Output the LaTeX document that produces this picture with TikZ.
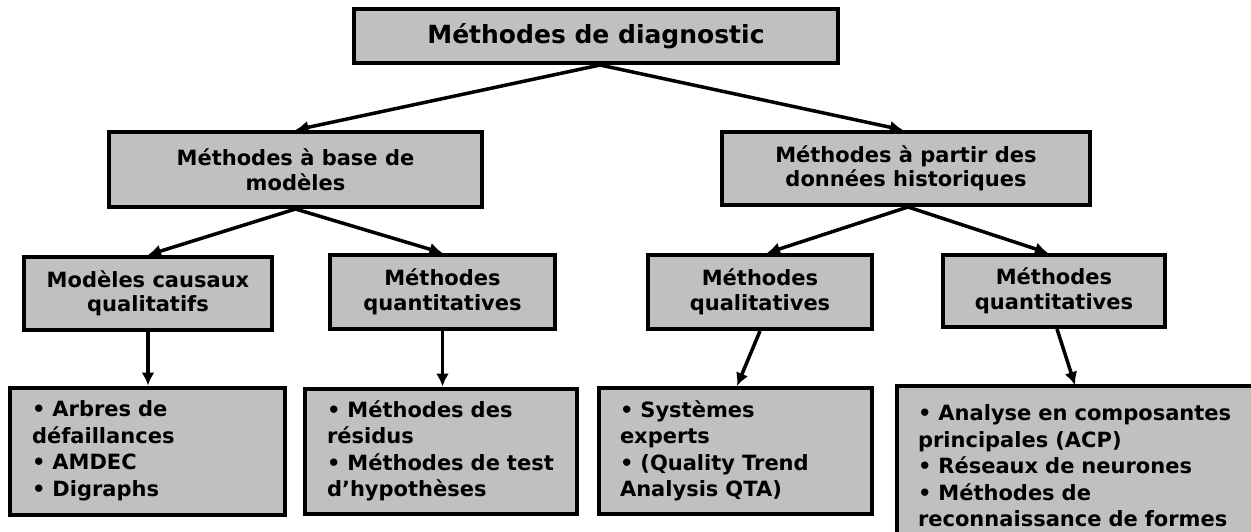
\documentclass[tikz,border=0pt]{standalone}
\usepackage{fontspec}
\setmainfont{DejaVu Sans}
\usetikzlibrary{arrows.meta}
\definecolor{boxgray}{HTML}{C0C0C0}
\tikzset{
  box/.style={draw=black, fill=boxgray, line width=4pt, rectangle, inner sep=0pt, align=center,
    font=\bfseries\fontsize{21}{24.5}\selectfont},
  topbox/.style={box, font=\bfseries\fontsize{25}{29}\selectfont},
  listbox/.style={box, align=left, font=\bfseries\fontsize{21}{26.5}\selectfont},
  arr/.style={line width=3.5pt, -{Latex[length=13pt,width=13pt]}}
}
\begin{document}
\begin{tikzpicture}[x=1pt,y=-1pt]
\clip (0,0) rectangle (1251,531);
\fill[white] (0,0) rectangle (1251,531);
% level 1
\node[topbox, minimum width=484pt, minimum height=54pt] (top) at (596,36) {Méthodes de diagnostic};
% level 2
\node[box, minimum width=373pt, minimum height=75pt] (l2a) at (295.5,169.5) {Méthodes à base de\\modèles};
\node[box, minimum width=368pt, minimum height=73pt] (l2b) at (906,168.5) {Méthodes à partir des\\données historiques};
% level 3
\node[box, minimum width=248pt, minimum height=73pt] (l3a) at (148,293.5) {Modèles causaux\\qualitatifs};
\node[box, minimum width=225pt, minimum height=74pt] (l3b) at (442.5,292) {Méthodes\\quantitatives};
\node[box, minimum width=224pt, minimum height=74pt] (l3c) at (760,292) {Méthodes\\qualitatives};
\node[box, minimum width=222pt, minimum height=72pt] (l3d) at (1054,291) {Méthodes\\quantitatives};
% level 4
\node[listbox, minimum width=275pt, minimum height=127pt, text width=231pt] (l4a) at (147.5,451)
  {• Arbres de\\défaillances\\• AMDEC\\• Digraphs};
\node[listbox, minimum width=272pt, minimum height=125pt, text width=228pt] (l4b) at (441,451)
  {• Méthodes des\\résidus\\• Méthodes de test\\d’hypothèses};
\node[listbox, minimum width=273pt, minimum height=126pt, text width=231pt] (l4c) at (735.5,451)
  {• Systèmes\\experts\\• (Quality Trend\\Analysis QTA)};
\node[listbox, minimum width=420pt, minimum height=160pt, text width=378pt] (l4d) at (1107,466)
  {• Analyse en composantes\\principales (ACP)\\• Réseaux de neurones\\• Méthodes de\\reconnaissance de formes};
\coordinate (l4din) at (1075,385);
% connectors
\draw[arr] ([xshift=4pt]top.south) -- (l2a.north);
\draw[arr] ([xshift=4pt]top.south) -- ([xshift=-3pt]l2b.north);
\draw[arr] (l2a.south) -- (l3a.north);
\draw[arr] (l2a.south) -- (l3b.north);
\draw[arr] ([xshift=2pt]l2b.south) -- ([xshift=7pt]l3c.north);
\draw[arr] ([xshift=2pt]l2b.south) -- ([xshift=-6pt]l3d.north);
\draw[arr] (l3a.south) -- (l3a.south |- l4a.north);
\draw[arr] (l3b.south) -- (l3b.south |- l4b.north);
\draw[arr] (l3c.south) -- ([xshift=1.5pt]l4c.north);
\draw[arr] ([xshift=3pt]l3d.south) -- (l4din);
\end{tikzpicture}
\end{document}
